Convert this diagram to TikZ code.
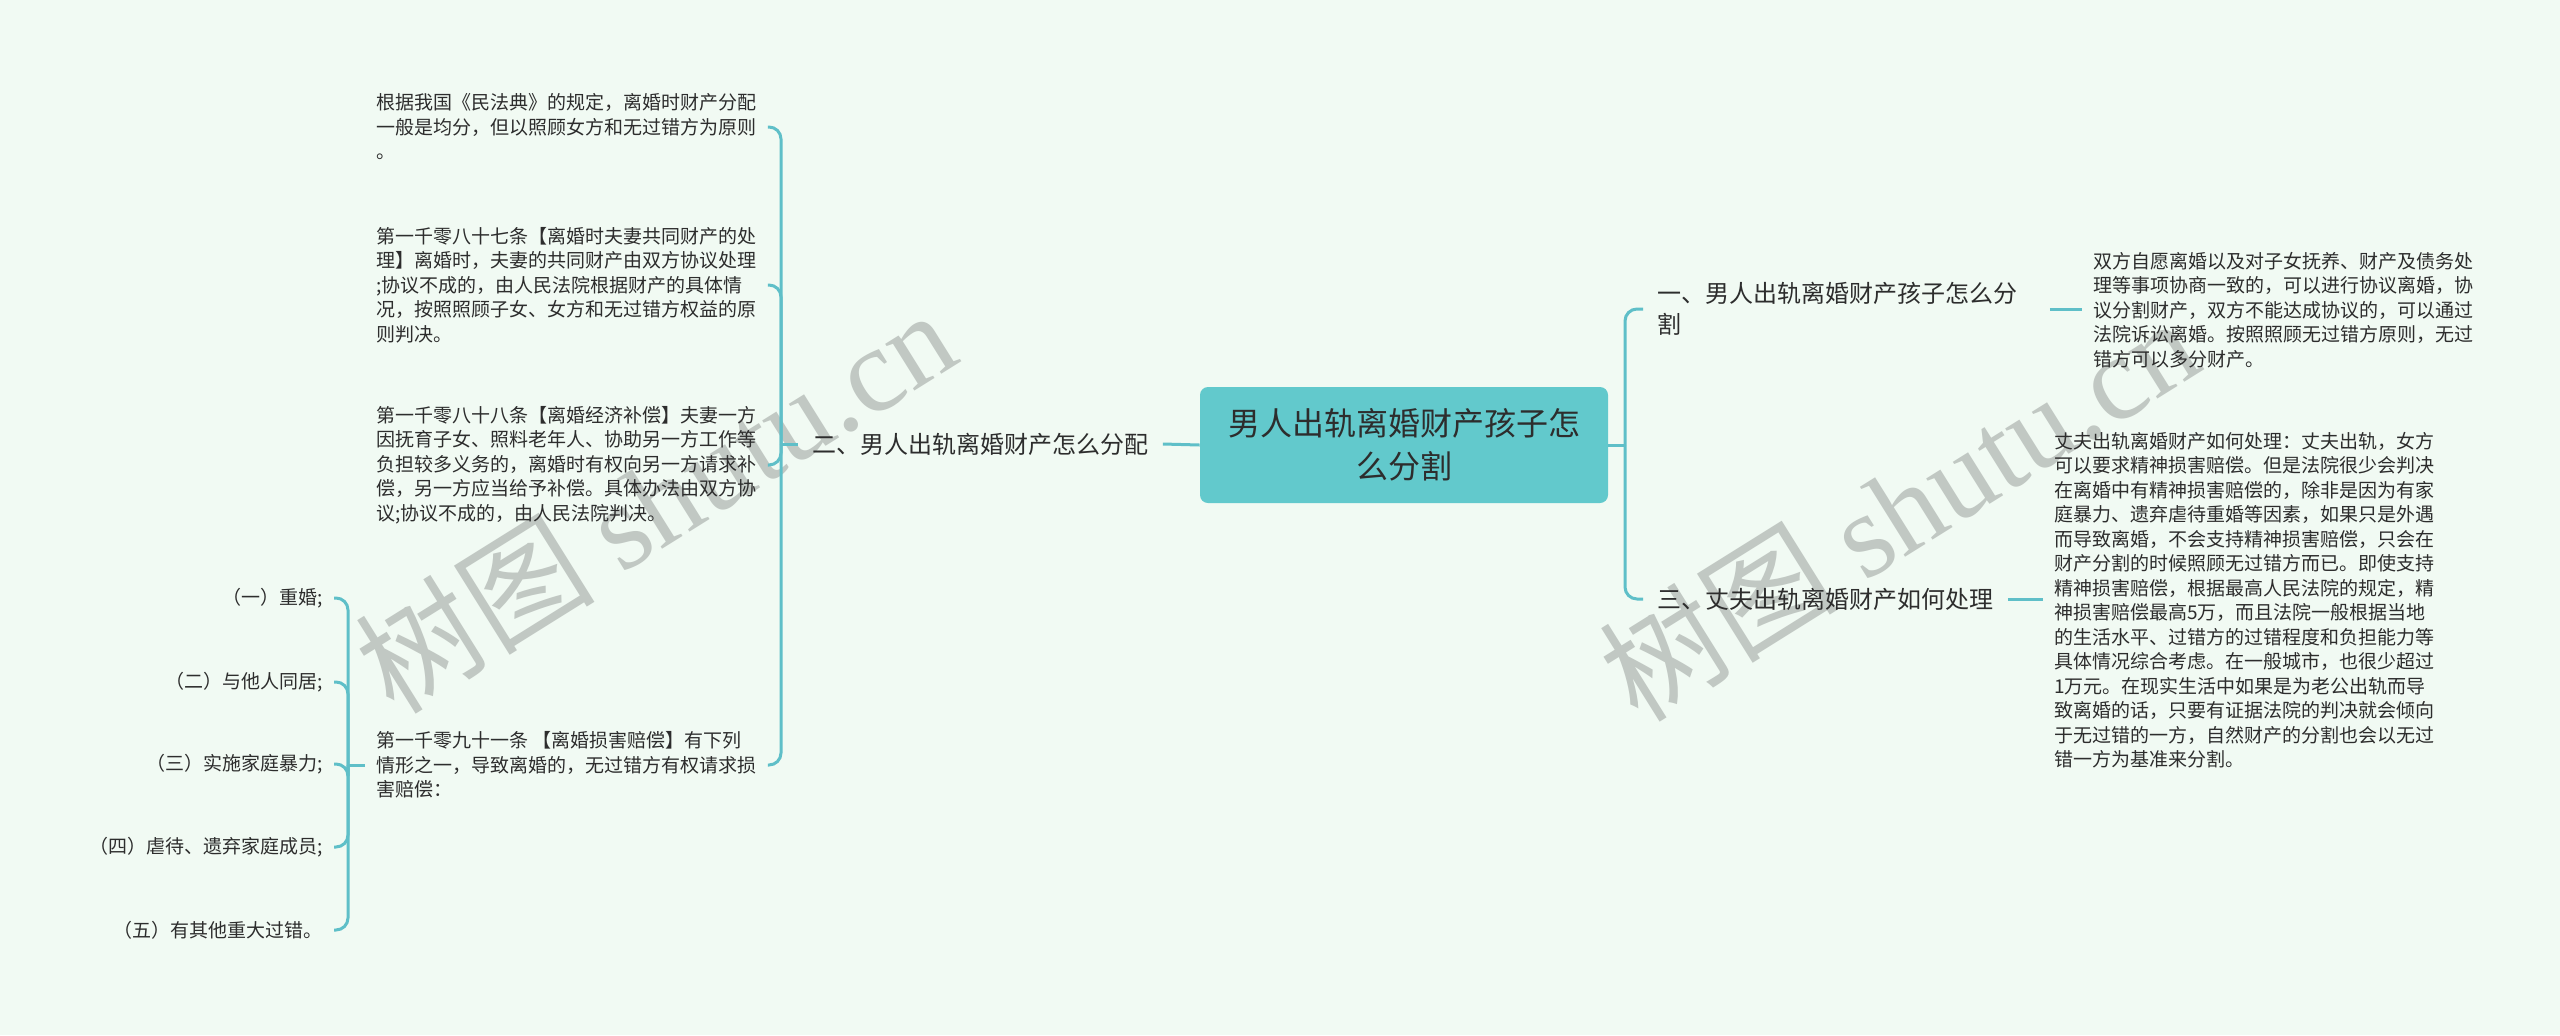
\documentclass[tikz,border=0pt]{standalone}
\usepackage{fontspec}
\setmainfont{Noto Sans CJK SC}
\newfontfamily\wmlatin{Liberation Serif}
\usetikzlibrary{positioning}
\definecolor{bgmint}{RGB}{241,250,243}
\definecolor{linkteal}{RGB}{95,191,200}
\definecolor{rootteal}{RGB}{98,201,204}
\definecolor{inkgray}{RGB}{45,45,45}
\definecolor{markgray}{RGB}{193,200,195}

\tikzset{
  link/.style={draw=linkteal, line width=1.5pt, rounded corners=6pt},
  rootbox/.style={fill=rootteal, rounded corners=4pt, minimum width=204pt, minimum height=58pt,
    align=center, text=inkgray, font=\fontsize{16}{21.5}\selectfont},
  branch/.style={inner xsep=7pt, inner ysep=2pt, align=left, text=inkgray, font=\fontsize{12}{15.5}\selectfont},
  leaf/.style={inner xsep=5.5pt, inner ysep=2pt, align=left, text=inkgray, font=\fontsize{9.5}{12.25}\selectfont},
  watermark/.style={rotate=32, text=markgray, font=\fontsize{60}{64}\selectfont}
}

\begin{document}
\begin{tikzpicture}[x=0.5pt, y=-0.5pt]
  \fill[bgmint] (0,0) rectangle (2560,1035);
  \useasboundingbox (0,0) rectangle (2560,1035);

  % watermarks
  \node[watermark] (wm1) at (655,500) {树图 {\wmlatin shutu.cn}};
  \node[watermark] (wm2) at (1898,508) {树图 {\wmlatin shutu.cn}};

  % centre
  \node[rootbox] (root) at (1404,445) {男人出轨离婚财产孩子怎\\么分割};

  % right side
  \node[branch, anchor=west, text width=189pt] (b1) at (1643,309) {一、男人出轨离婚财产孩子怎么分\\割};
  \node[branch, anchor=west] (b3) at (1643,599) {三、丈夫出轨离婚财产如何处理};
  \node[leaf, anchor=west] (r1) at (2082,310) {双方自愿离婚以及对子女抚养、财产及债务处\\理等事项协商一致的，可以进行协议离婚，协\\议分割财产，双方不能达成协议的，可以通过\\法院诉讼离婚。按照照顾无过错方原则，无过\\错方可以多分财产。};
  \node[leaf, anchor=west] (r3) at (2043,600) {丈夫出轨离婚财产如何处理：丈夫出轨，女方\\可以要求精神损害赔偿。但是法院很少会判决\\在离婚中有精神损害赔偿的，除非是因为有家\\庭暴力、遗弃虐待重婚等因素，如果只是外遇\\而导致离婚，不会支持精神损害赔偿，只会在\\财产分割的时候照顾无过错方而已。即使支持\\精神损害赔偿，根据最高人民法院的规定，精\\神损害赔偿最高5万，而且法院一般根据当地\\的生活水平、过错方的过错程度和负担能力等\\具体情况综合考虑。在一般城市，也很少超过\\1万元。在现实生活中如果是为老公出轨而导\\致离婚的话，只要有证据法院的判决就会倾向\\于无过错的一方，自然财产的分割也会以无过\\错一方为基准来分割。};

  % left side
  \node[branch, anchor=west] (b2) at (798,444) {二、男人出轨离婚财产怎么分配};
  \node[leaf, anchor=west] (l1) at (365,127) {根据我国《民法典》的规定，离婚时财产分配\\一般是均分，但以照顾女方和无过错方为原则\\。};
  \node[leaf, anchor=west] (l2) at (365,285) {第一千零八十七条【离婚时夫妻共同财产的处\\理】离婚时，夫妻的共同财产由双方协议处理\\;协议不成的，由人民法院根据财产的具体情\\况，按照照顾子女、女方和无过错方权益的原\\则判决。};
  \node[leaf, anchor=west] (l3) at (365,465) {第一千零八十八条【离婚经济补偿】夫妻一方\\因抚育子女、照料老年人、协助另一方工作等\\负担较多义务的，离婚时有权向另一方请求补\\偿，另一方应当给予补偿。具体办法由双方协\\议;协议不成的，由人民法院判决。};
  \node[leaf, anchor=west] (l4) at (365,765) {第一千零九十一条 【离婚损害赔偿】有下列\\情形之一，导致离婚的，无过错方有权请求损\\害赔偿：};
  \node[leaf, anchor=east] (s1) at (334,598) {（一）重婚;};
  \node[leaf, anchor=east] (s2) at (334,682) {（二）与他人同居;};
  \node[leaf, anchor=east] (s3) at (334,764) {（三）实施家庭暴力;};
  \node[leaf, anchor=east] (s4) at (334,847) {（四）虐待、遗弃家庭成员;};
  \node[leaf, anchor=east] (s5) at (334,930) {（五）有其他重大过错。};

  % connectors
  \coordinate (rfork) at (1625,445);
  \coordinate (lfork) at (781,444);
  \coordinate (sfork) at (348,765);
  \draw[link] (root.east) -- (rfork);
  \draw[link] (rfork) |- (b1.west);
  \draw[link] (rfork) |- (b3.west);
  \draw[link] (b1.east) -- (r1.west |- b1.east);
  \draw[link] (b3.east) -- (r3.west |- b3.east);
  \draw[link] (root.west) -- (b2.east);
  \draw[link] (b2.west) -- (lfork);
  \draw[link] (lfork) |- (l1.east);
  \draw[link] (lfork) |- (l2.east);
  \draw[link] (lfork) |- (l3.east);
  \draw[link] (lfork) |- (l4.east);
  \draw[link] (l4.west) -- (sfork);
  \draw[link] (sfork) |- (s1.east);
  \draw[link] (sfork) |- (s2.east);
  \draw[link] (sfork) |- (s3.east);
  \draw[link] (sfork) |- (s4.east);
  \draw[link] (sfork) |- (s5.east);
\end{tikzpicture}
\end{document}
